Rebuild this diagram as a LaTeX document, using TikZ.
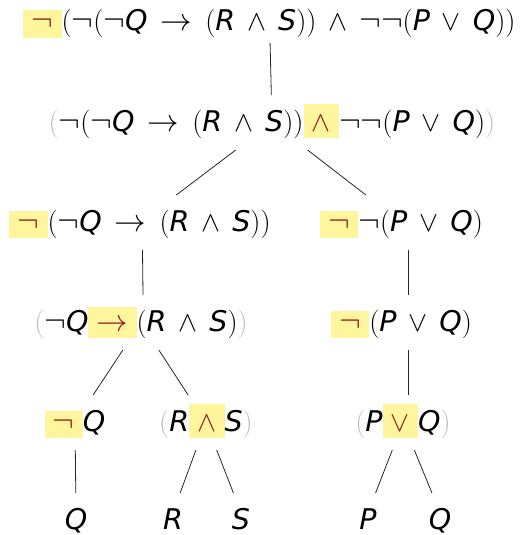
\RequirePackage{fix-cm}
\documentclass[tikz,border=0pt]{standalone}
\usepackage{fontspec}
\setmainfont{DejaVu Sans}
\usepackage{xcolor}
\usepackage{tikz}
\usetikzlibrary{positioning}

\definecolor{hlyellow}{HTML}{FFF59D}
\definecolor{conndark}{HTML}{8B1A1A}
\definecolor{parengray}{HTML}{BDBDBD}

%% connectives: bare symbols, and spaced ones for inside a formula
\newcommand{\symneg}{{\fontsize{32.5}{32.5}\selectfont\ensuremath{\neg}}}
\newcommand{\symand}{\ensuremath{\wedge}}
\newcommand{\symor}{\ensuremath{\vee}}
\newcommand{\symimp}{{\fontsize{31.5}{31.5}\selectfont\ensuremath{\rightarrow}}}
\newcommand{\opand}{\hspace{0.42em}\symand\hspace{0.42em}}
\newcommand{\opor}{\hspace{0.42em}\symor\hspace{0.42em}}
\newcommand{\opimp}{\hspace{0.46em}\symimp\hspace{0.46em}}
\newcommand{\lp}{\ensuremath{(}}
\newcommand{\rp}{\ensuremath{)}}
%% main connective: yellow box, top edge given as optional argument
\newcommand{\mainop}[2][26.5pt]{{\setlength{\fboxsep}{0pt}\colorbox{hlyellow}{%
  \hspace{8.3pt}\rule[-6.6pt]{0pt}{\dimexpr#1+6.6pt\relax}%
  \raisebox{0pt}[0pt][0pt]{\textcolor{conndark}{#2}}%
  \hspace{8.3pt}}}}
\newcommand{\mneg}{\mainop[20.5pt]{\symneg}}
\newcommand{\mand}{\mainop[26.7pt]{\symand}}
\newcommand{\mor}{\mainop[26.7pt]{\symor}}
\newcommand{\mimp}{\mainop[24pt]{\symimp}}
\newcommand{\outerp}[1]{\textcolor{parengray}{#1}}
\newcommand{\va}[1]{\textit{#1}}

\tikzset{
  formula/.style = {anchor=base, inner xsep=4pt, inner ysep=0pt, outer sep=0pt,
                    text height=36pt, text depth=19pt,
                    font=\fontsize{28.5}{34}\selectfont},
  atom/.style    = {formula, text depth=3pt},
  edge/.style    = {line width=0.8pt, black!85},
}

\begin{document}
\begin{tikzpicture}[x=1pt, y=-1pt]
    \useasboundingbox (0,0) rectangle (529,535);

    %% Formulas, one row per depth
    \node[formula, text depth=12pt] (root) at (269.5, 31)
      {\mneg\lp\symneg\lp\symneg\va{Q}\opimp\lp\va{R}\opand\va{S}\rp\rp\opand\symneg\symneg\lp\va{P}\opor\va{Q}\rp\rp};
    \node[formula] (conj)  at (272, 131)
      {\outerp{\lp}\symneg\lp\symneg\va{Q}\opimp\lp\va{R}\opand\va{S}\rp\rp\mand\symneg\symneg\lp\va{P}\opor\va{Q}\rp\outerp{\rp}};
    \node[formula] (negl)  at (140, 231)   {\mneg\lp\symneg\va{Q}\opimp\lp\va{R}\opand\va{S}\rp\rp};
    \node[formula] (negr)  at (401.5, 231) {\mneg\symneg\lp\va{P}\opor\va{Q}\rp};
    \node[formula] (impl)  at (141, 331)   {\outerp{\lp}\symneg\va{Q}\mimp\lp\va{R}\opand\va{S}\rp\outerp{\rp}};
    \node[formula] (negpq) at (401.5, 331) {\mneg\lp\va{P}\opor\va{Q}\rp};
    \node[formula] (negq)  at (75, 431)    {\mneg\va{Q}};
    \node[formula] (ands)  at (206, 431)   {\outerp{\lp}\va{R}\mand\va{S}\outerp{\rp}};
    \node[formula] (orpq)  at (403, 431)   {\outerp{\lp}\va{P}\mor\va{Q}\outerp{\rp}};

    %% Atoms
    \node[atom] (atq1) at (76, 529)  {\va{Q}};
    \node[atom] (atr)  at (173, 529) {\va{R}};
    \node[atom] (ats)  at (241, 529) {\va{S}};
    \node[atom] (atp)  at (368, 529) {\va{P}};
    \node[atom] (atq2) at (440, 529) {\va{Q}};

    %% Tree edges
    \draw[edge] (root) -- (conj);
    \draw[edge] (conj) -- (negl);
    \draw[edge] (conj) -- (negr);
    \draw[edge] ([xshift=2.5pt]negl.south) -- ([xshift=2pt]impl.north);
    \draw[edge] ([xshift=6.5pt]negr.south) -- ([xshift=6.5pt]negpq.north);
    \draw[edge] (impl) -- (negq);
    \draw[edge] (impl) -- (ands);
    \draw[edge] ([xshift=6.5pt]negpq.south) -- ([xshift=6.5pt]negpq.south |- orpq.north);
    \draw[edge] (negq) -- (atq1);
    \draw[edge] (ands) -- (atr);
    \draw[edge] (ands) -- (ats);
    \draw[edge] (orpq) -- (atp);
    \draw[edge] (orpq) -- (atq2);

\end{tikzpicture}
\end{document}
